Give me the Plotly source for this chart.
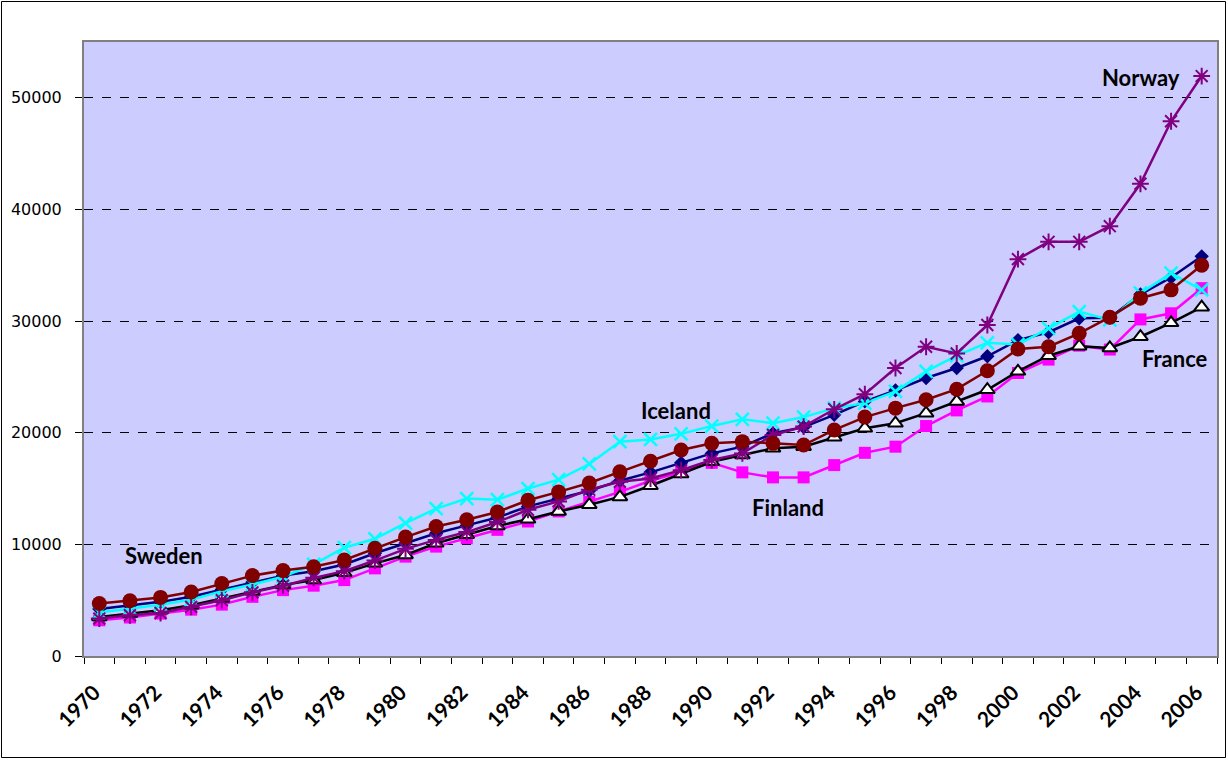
import plotly.graph_objects as go

years = list(range(1970, 2007))

denmark = [4200, 4500, 4850, 5300, 5950, 6600, 7200, 7600, 8200, 9200,
           10100, 11000, 11700, 12400, 13400, 14100, 14800, 15700, 16450, 17300,
           18150, 18750, 19950, 20500, 21600, 22800, 23800, 24900, 25800, 26850,
           28300, 29000, 30250, 30300, 32400, 33900, 35800]
iceland = [3900, 4250, 4600, 5050, 5800, 6400, 7100, 8200, 9700, 10500,
           11900, 13200, 14100, 14000, 15000, 15800, 17200, 19200, 19400, 19900,
           20600, 21200, 20850, 21400, 22200, 22650, 23700, 25500, 26900, 28050,
           27900, 29350, 30850, 30100, 32500, 34300, 32800]
sweden = [4700, 4950, 5250, 5730, 6500, 7200, 7650, 8000, 8600, 9650,
          10650, 11600, 12200, 12900, 13950, 14700, 15500, 16500, 17450, 18450,
          19050, 19200, 19050, 18900, 20250, 21400, 22200, 22950, 23900, 25550,
          27500, 27700, 28900, 30350, 32050, 32800, 35000]
finland = [3200, 3450, 3800, 4150, 4600, 5300, 5900, 6300, 6800, 7850,
           8900, 9800, 10550, 11300, 12050, 12950, 13800, 14700, 15700, 16500,
           17300, 16450, 16000, 16000, 17100, 18200, 18750, 20600, 22000, 23250,
           25350, 26550, 27800, 27450, 30150, 30700, 32950]
france = [3500, 3800, 4100, 4550, 5150, 5800, 6350, 6800, 7450, 8300,
          9050, 10100, 10850, 11650, 12250, 12950, 13550, 14250, 15250, 16300,
          17400, 18000, 18600, 18750, 19600, 20400, 20850, 21750, 22800, 23850,
          25500, 26900, 27750, 27600, 28600, 29850, 31250]
norway = [3350, 3650, 3850, 4400, 5000, 5700, 6300, 7000, 7600, 8550,
          9600, 10400, 11100, 12000, 13100, 13850, 14900, 15600, 15900, 16650,
          17550, 18150, 19800, 20550, 22100, 23450, 25800, 27700, 27100, 29650,
          35550, 37100, 37100, 38500, 42300, 47900, 51950]

tick_years = list(range(1970, 2007, 2))
y_ticks = [0, 10000, 20000, 30000, 40000, 50000]

fig = go.Figure()

def add(name, vals, color, symbol, size, mfill=None, mline_color=None, mline_w=0):
    fig.add_trace(go.Scatter(
        x=years, y=vals, name=name, mode="lines+markers",
        line=dict(color=color, width=2.5),
        marker=dict(symbol=symbol, size=size,
                    color=mfill if mfill else color,
                    line=dict(color=mline_color if mline_color else color, width=mline_w)),
        showlegend=False, cliponaxis=False))

add("Finland", finland, "#FF00FF", "square", 12)
add("France", france, "#000000", "triangle-up", 13, mfill="#FFFFFF", mline_color="#000000", mline_w=2)
add("Denmark", denmark, "#000080", "diamond", 11)
add("Iceland", iceland, "#00FFFF", "x-thin-open", 13, mline_color="#00FFFF", mline_w=2.5)
add("Norway", norway, "#800080", "asterisk-open", 14, mline_color="#800080", mline_w=2)
add("Sweden", sweden, "#800000", "circle", 15)

ann_font = dict(family="Lato, Open Sans, sans-serif", size=22, color="#000000", weight="bold")
annotations = [
    dict(x=2005.35, y=51790, text="Norway", xanchor="right", yanchor="middle"),
    dict(x=1988.84, y=21950, text="Iceland", xanchor="center", yanchor="middle"),
    dict(x=1992.49, y=13260, text="Finland", xanchor="center", yanchor="middle"),
    dict(x=1972.1, y=8960, text="Sweden", xanchor="center", yanchor="middle"),
    dict(x=2005.12, y=26610, text="France", xanchor="center", yanchor="middle"),
]
for a in annotations:
    a.update(showarrow=False, font=ann_font, xref="x", yref="y")

W, H = 1228, 760
ml, mr, mt, mb = 84, 11, 42, 104
pw, ph = W - ml - mr, H - mt - mb

fig.update_layout(
    width=W, height=H,
    margin=dict(l=ml, r=mr, t=mt, b=mb, pad=0, autoexpand=False),
    paper_bgcolor="#FFFFFF",
    plot_bgcolor="#CCCCFF",
    annotations=annotations,
    shapes=[dict(type="rect", xref="paper", yref="paper",
                 x0=(1.5 - ml) / pw, x1=(W - 2.5 - ml) / pw,
                 y0=((H - mb) - (H - 2.5)) / ph, y1=((H - mb) - 1.5) / ph,
                 line=dict(color="#000000", width=1), layer="below")],
    xaxis=dict(
        automargin=False,
        range=[1969.5, 2006.5],
        tickmode="array", tickvals=tick_years, ticktext=[str(y) for y in tick_years],
        tickangle=-45, ticks="outside", ticklen=14, tickcolor="rgba(0,0,0,0)",
        ticklabelshift=-5,
        tickfont=dict(family="Lato, Open Sans, sans-serif", size=21, color="#000000", weight="bold"),
        showgrid=False, zeroline=False,
        showline=True, linecolor="#808080", linewidth=2, mirror=True,
        minor=dict(tickmode="linear", tick0=1969.5, dtick=1, ticks="outside",
                   ticklen=6, tickcolor="#000000", tickwidth=1, showgrid=False),
    ),
    yaxis=dict(
        automargin=False,
        range=[0, 55000],
        tickmode="array", tickvals=y_ticks, ticktext=[str(v) for v in y_ticks],
        ticks="outside", ticklen=7, tickcolor="#000000",
        ticklabelstandoff=10,
        tickfont=dict(family="DejaVu Sans, Verdana, sans-serif", size=16, color="#000000"),
        showgrid=True, gridcolor="#000000", gridwidth=1, griddash="dash",
        zeroline=False,
        showline=True, linecolor="#808080", linewidth=2, mirror=True,
    ),
)

fig.write_html("out.html", config={"displayModeBar": False},
               post_script="document.body.style.margin='0';")
